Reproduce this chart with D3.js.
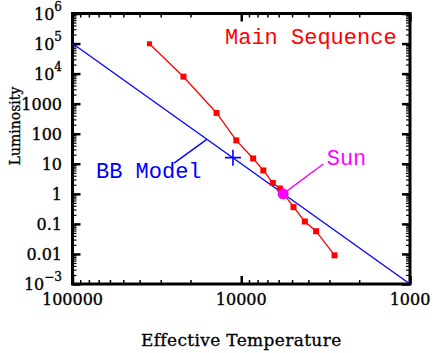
<!DOCTYPE html>
<html><head><meta charset="utf-8">
<script src="https://cdn.jsdelivr.net/npm/d3@7"></script>
<style>body{margin:0;background:#fff}svg{display:block}</style>
</head><body>
<svg id="c" width="434" height="353"></svg>
<script>
// Main sequence (red squares + line)
const msTemp = [35000, 22000, 14000, 10700, 8500, 7400, 6500, 5900, 4900, 4200, 3600, 2800];
const msLum  = [98000, 7900, 490, 60, 15, 6.0, 2.3, 1.5, 0.36, 0.12, 0.057, 0.009];
// Blackbody model line (L ∝ T^4)
const bbTemp = [100000, 1000];
const bbLum  = [1e5, 1e-3];
// Cross on the BB model line
const bbMarkTemp = [11200];
const bbMarkLum  = [16];
// Sun
const sunTemp = [5650];
const sunLum  = [1];
// Ticks
const xMajorTicks = [100000, 10000, 1000];
const xTickLabels = ["100000", "10000", "1000"];
const yMajorTicks = [1e6, 1e5, 1e4, 1e3, 100, 10, 1, 0.1, 0.01, 1e-3];
const yTickLabels = [["10","6"],["10","5"],["10","4"],["1000"],["100"],["10"],["1"],["0.1"],["0.01"],["10","\u22123"]];
// Annotations (data coordinates)
const labels = [
  {text: "Main Sequence", T: 12480, L: 96700, color: "#ff0000"},
  {text: "BB Model", T: 72600, L: 3.3, color: "#0000ff"},
  {text: "Sun", T: 3116, L: 9.1, color: "#ff00ff"}
];
const pointers = [
  {T: [25000, 16000], L: [10.5, 65], color: "#0000ff"},
  {T: [5650, 3266], L: [1, 9.8], color: "#ff00ff"}
];

const svg = d3.select("#c");
const x = d3.scaleLog().domain([1e5, 1e3]).range([72.5, 410]);
const y = d3.scaleLog().domain([1e-3, 1e6]).range([284, 13.5]);
const x0 = x.range()[0], x1 = x.range()[1], y0 = y.range()[1], y1 = y.range()[0];

const tickFont = "DejaVu Serif";
const annFont = "Liberation Mono";

// minor ticks from the scale
const isMajor = v => Math.abs(Math.log10(v) - Math.round(Math.log10(v))) < 1e-9;
const xMinor = x.ticks().filter(v => !isMajor(v));
const yMinor = y.ticks().filter(v => !isMajor(v));

function axisGroup(axis, tx, ty, sw) {
  const g = svg.append("g").attr("transform", `translate(${tx},${ty})`).call(axis);
  g.select(".domain").remove();
  g.selectAll("text").remove();
  g.selectAll("line").attr("stroke","#000").attr("stroke-width", sw);
  return g;
}
// bottom
axisGroup(d3.axisBottom(x).tickValues(xMinor).tickSize(-4).tickSizeOuter(0), 0, y1, 1.5);
axisGroup(d3.axisBottom(x).tickValues(xMajorTicks).tickSize(-8).tickSizeOuter(0), 0, y1, 2.5);
// top
axisGroup(d3.axisTop(x).tickValues(xMinor).tickSize(-4).tickSizeOuter(0), 0, y0, 1.5);
axisGroup(d3.axisTop(x).tickValues(xMajorTicks).tickSize(-8).tickSizeOuter(0), 0, y0, 2.5);
// left
axisGroup(d3.axisLeft(y).tickValues(yMinor).tickSize(-4).tickSizeOuter(0), x0, 0, 1.2);
axisGroup(d3.axisLeft(y).tickValues(yMajorTicks).tickSize(-8).tickSizeOuter(0), x0, 0, 2.5);
// right
axisGroup(d3.axisRight(y).tickValues(yMinor).tickSize(-4).tickSizeOuter(0), x1, 0, 1.2);
axisGroup(d3.axisRight(y).tickValues(yMajorTicks).tickSize(-8).tickSizeOuter(0), x1, 0, 2.5);

// frame
svg.append("rect").attr("x", x0).attr("y", y0).attr("width", x1 - x0).attr("height", y1 - y0)
  .attr("fill","none").attr("stroke","#000").attr("stroke-width",3);

// x tick labels
svg.append("g").selectAll("text").data(xMajorTicks).join("text")
  .attr("x", d => x(d)).attr("y", y1 + 21)
  .attr("text-anchor","middle").attr("font-family", tickFont).attr("font-size", 16)
  .attr("stroke","#000").attr("stroke-width",0.35)
  .text((d, i) => xTickLabels[i]);

// y tick labels
const yl = svg.append("g").selectAll("text").data(yMajorTicks).join("text")
  .attr("x", 62).attr("y", d => y(d) + 6)
  .attr("text-anchor","end").attr("font-family", tickFont).attr("font-size", 16)
  .attr("stroke","#000").attr("stroke-width",0.35);
yl.each(function(d, i) {
  const parts = yTickLabels[i];
  const t = d3.select(this);
  t.append("tspan").text(parts[0]);
  if (parts[1]) t.append("tspan").attr("dy", -9).attr("font-size", 12).text(parts[1]);
});

// axis titles
svg.append("text").attr("x", (x0 + x1) / 2).attr("y", 346)
  .attr("text-anchor","middle").attr("font-family", tickFont).attr("font-size", 17)
  .attr("stroke","#000").attr("stroke-width",0.3)
  .attr("letter-spacing", 0.35).text("Effective Temperature");
svg.append("text").attr("transform", "translate(20,126) rotate(-90)")
  .attr("text-anchor","middle").attr("font-family", tickFont).attr("font-size", 14)
  .attr("stroke","#000").attr("stroke-width",0.3)
  .text("Luminosity");

// clip
svg.append("clipPath").attr("id","clip").append("rect")
  .attr("x", x0).attr("y", y0).attr("width", x1 - x0).attr("height", y1 - y0);
const plot = svg.append("g").attr("clip-path","url(#clip)");

// BB model line
plot.append("path").datum(bbTemp.map((t, i) => [t, bbLum[i]]))
  .attr("d", d3.line().x(d => x(d[0])).y(d => y(d[1])))
  .attr("fill","none").attr("stroke","#0000ff").attr("stroke-width",1.3);

// main sequence line + squares
const ms = msTemp.map((t, i) => [t, msLum[i]]);
plot.append("path").datum(ms)
  .attr("d", d3.line().x(d => x(d[0])).y(d => y(d[1])))
  .attr("fill","none").attr("stroke","#ff0000").attr("stroke-width",1.3);
plot.append("g").selectAll("rect").data(ms).join("rect")
  .attr("x", (d, i) => x(d[0]) - (i === 0 ? 2.5 : 3)).attr("y", (d, i) => y(d[1]) - (i === 0 ? 2.5 : 3))
  .attr("width", (d, i) => i === 0 ? 5 : 6).attr("height", (d, i) => i === 0 ? 5 : 6).attr("fill","#ff0000");

// cross
bbMarkTemp.forEach((t, i) => {
  const cx = x(t), cy = y(bbMarkLum[i]);
  plot.append("path").attr("d", `M${cx-8},${cy}H${cx+8}M${cx},${cy-8}V${cy+8}`)
    .attr("stroke","#0000ff").attr("stroke-width",1.6);
});

// pointers
pointers.forEach(p => {
  svg.append("line").attr("x1", x(p.T[0])).attr("y1", y(p.L[0]))
    .attr("x2", x(p.T[1])).attr("y2", y(p.L[1]))
    .attr("stroke", p.color).attr("stroke-width", 1.4);
});

// sun
plot.append("g").selectAll("circle").data(sunTemp).join("circle")
  .attr("cx", d => x(d)).attr("cy", (d, i) => y(sunLum[i])).attr("r", 5.5).attr("fill","#ff00ff");

// labels
svg.append("g").selectAll("text").data(labels).join("text")
  .attr("x", d => x(d.T)).attr("y", d => y(d.L))
  .attr("font-family", annFont).attr("font-size", 22).attr("fill", d => d.color)
  .text(d => d.text);
</script>
</body></html>
